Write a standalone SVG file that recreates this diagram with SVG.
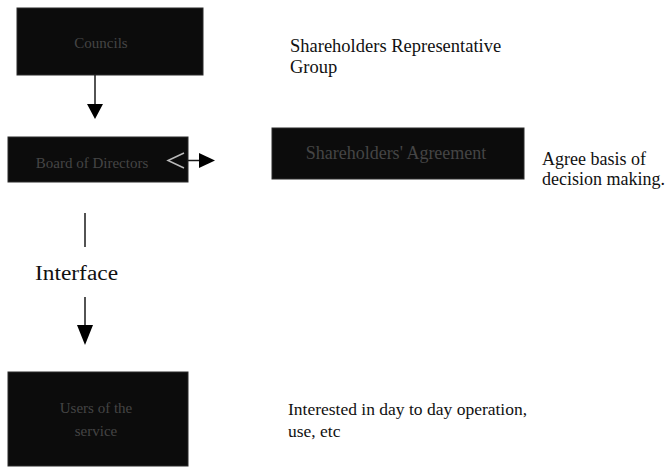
<svg xmlns="http://www.w3.org/2000/svg" width="669" height="471" viewBox="0 0 669 471">
<defs>
<style>
.box{fill:#0c0c0c;stroke:#2a2a2a;stroke-width:1}
.btx{font-family:"Liberation Serif",serif;fill:#454545;text-anchor:middle}
.lbl{font-family:"Liberation Serif",serif;fill:#111}
.ln{stroke:#1a1a1a;stroke-width:1.5;fill:none}
.hd{fill:#000}
</style>
</defs>
<rect width="669" height="471" fill="#fff"/>
<g id="node-councils">
<rect class="box" x="17" y="8" width="186" height="67"/>
<text class="btx" x="101" y="48" font-size="15">Councils</text>
</g>
<g id="node-board">
<rect class="box" x="8" y="137" width="180" height="45"/>
<text class="btx" x="92" y="168" font-size="15">Board of Directors</text>
<polyline points="184,153 168,160.5 184,168" fill="none" stroke="#bbb" stroke-width="1.5"/>
</g>
<g id="node-agreement">
<rect class="box" x="272" y="128" width="252" height="51"/>
<text class="btx" x="396" y="159" font-size="18">Shareholders' Agreement</text>
</g>
<g id="node-users">
<rect class="box" x="8" y="372" width="180" height="94"/>
<text class="btx" x="96" y="413" font-size="15">Users of the</text>
<text class="btx" x="96" y="436" font-size="15">service</text>
</g>
<g id="labels">
<text class="lbl" x="290" y="52" font-size="18.5">Shareholders Representative</text>
<text class="lbl" x="290" y="73" font-size="18.5">Group</text>
<text class="lbl" x="542" y="165" font-size="18">Agree basis of</text>
<text class="lbl" x="542" y="185" font-size="18">decision making.</text>
<text class="lbl" x="35" y="280" font-size="20" textLength="83" lengthAdjust="spacingAndGlyphs">Interface</text>
<text class="lbl" x="288" y="415" font-size="17.5">Interested in day to day operation,</text>
<text class="lbl" x="288" y="437" font-size="17.5">use, etc</text>
</g>
<g id="connectors">
<line class="ln" x1="95" y1="75" x2="95" y2="105"/>
<polygon class="hd" points="87,104 103,104 95,119"/>
<line class="ln" x1="187" y1="160.5" x2="200" y2="160.5"/>
<polygon class="hd" points="199,153 199,168 215,160.5"/>
<line class="ln" x1="85" y1="213" x2="85" y2="247"/>
<line class="ln" x1="85" y1="297" x2="85" y2="326"/>
<polygon class="hd" points="77,325 93,325 85,345"/>
</g>
</svg>
